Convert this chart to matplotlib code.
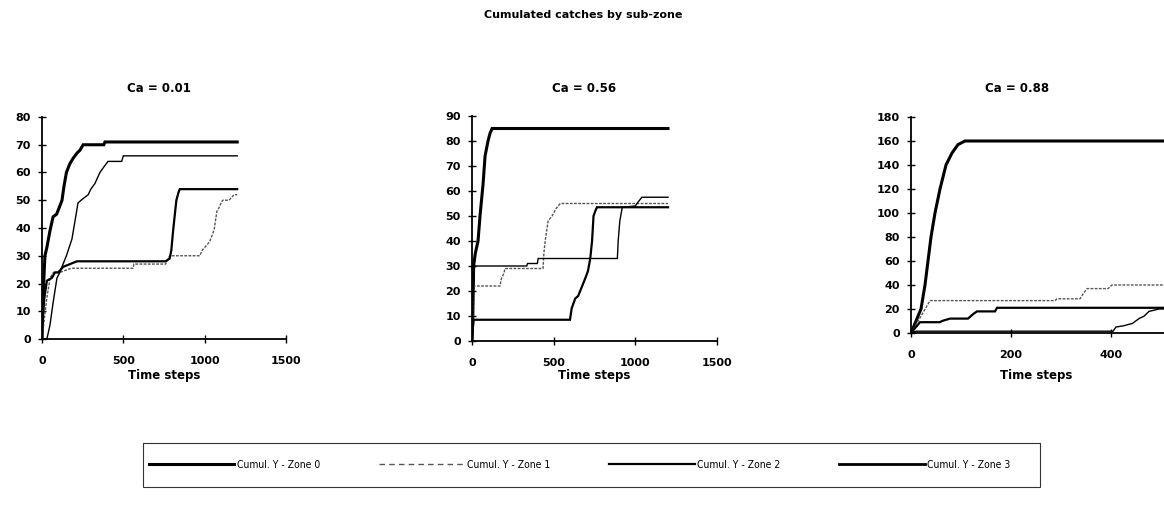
import matplotlib
matplotlib.use("Agg")
import matplotlib.pyplot as plt
from matplotlib.lines import Line2D
from matplotlib.patches import Rectangle
from matplotlib import font_manager

# ---- data: cumulated catches per sub-zone, three catchability values ----
panel_titles = ["Ca = 0.01", "Ca = 0.56", "Ca = 0.88"]
zone_labels = ["Cumul. Y - Zone 0", "Cumul. Y - Zone 1",
               "Cumul. Y - Zone 2", "Cumul. Y - Zone 3"]

# Ca = 0.01
t_a_z0 = [0, 5, 10, 18, 30, 49, 68, 90, 110, 123, 135, 150, 170, 190, 215, 233, 253, 380, 387, 1200]
y_a_z0 = [0, 12, 20, 30, 33, 39, 44, 45, 48, 50, 55, 60, 63, 65, 67, 68, 70, 70, 71, 71]
t_a_z1 = [0, 10, 30, 50, 70, 110, 180, 560, 565, 760, 785, 970, 985, 1000, 1030, 1050, 1060, 1075, 1085, 1110, 1150, 1180, 1200]
y_a_z1 = [0, 5, 15, 22, 24, 24, 25.5, 25.5, 27, 27, 30, 30, 32, 33, 35, 38, 40, 46, 47, 50, 50, 52, 52]
t_a_z2 = [0, 30, 49, 68, 92, 110, 123, 150, 184, 210, 221, 240, 284, 300, 325, 356, 380, 406, 490, 500, 1200]
y_a_z2 = [0, 0, 5, 13, 22, 24, 26, 30, 36, 45, 49, 50, 52, 54, 56, 60, 62, 64, 64, 66, 66]
t_a_z3 = [0, 5, 15, 30, 60, 80, 100, 130, 215, 760, 785, 795, 806, 815, 826, 840, 847, 1200]
y_a_z3 = [0, 8, 15, 21, 22, 24, 24, 26, 28, 28, 29, 32, 39, 44, 50, 53, 54, 54]

# Ca = 0.56
t_b_z0 = [0, 5, 10, 20, 37, 49, 68, 80, 98, 110, 123, 1200]
y_b_z0 = [0, 10, 30, 35, 40, 50, 63, 74, 80, 83, 85, 85]
t_b_z1 = [0, 5, 10, 172, 180, 195, 202, 435, 440, 448, 466, 490, 515, 540, 1200]
y_b_z1 = [0, 10, 22, 22, 25, 27, 29, 29, 35, 40, 48, 50, 53, 55, 55]
t_b_z2 = [0, 8, 15, 335, 340, 400, 405, 890, 895, 905, 920, 1000, 1010, 1040, 1200]
y_b_z2 = [0, 20, 30, 30, 31, 31, 33, 33, 40, 48, 53.5, 54, 55, 57.5, 57.5]
t_b_z3 = [0, 5, 10, 600, 610, 632, 650, 693, 710, 724, 735, 744, 755, 765, 1200]
y_b_z3 = [0, 5, 8.5, 8.5, 13, 17, 18, 25, 28, 33, 40, 50, 52, 53.5, 53.5]

# Ca = 0.88
t_c_z0 = [0, 10, 20, 28, 34, 40, 48, 58, 70, 82, 94, 108, 510]
y_c_z0 = [0, 10, 20, 40, 60, 80, 100, 120, 140, 150, 157, 160, 160]
t_c_z1 = [0, 20, 38, 288, 292, 338, 345, 352, 394, 402, 510]
y_c_z1 = [0, 14, 27, 27, 28.5, 28.5, 33, 37, 37, 40, 40]
t_c_z2 = [0, 10, 404, 410, 425, 443, 456, 466, 476, 486, 496, 510]
y_c_z2 = [0, 1.5, 1.5, 5, 6, 8, 12, 14, 18, 19, 20, 20]
t_c_z3 = [0, 10, 18, 58, 62, 78, 114, 125, 132, 168, 172, 510]
y_c_z3 = [0, 5, 9, 9, 10, 12, 12, 16, 18, 18, 21, 21]

panels = [
    [(t_a_z0, y_a_z0), (t_a_z1, y_a_z1), (t_a_z2, y_a_z2), (t_a_z3, y_a_z3)],
    [(t_b_z0, y_b_z0), (t_b_z1, y_b_z1), (t_b_z2, y_b_z2), (t_b_z3, y_b_z3)],
    [(t_c_z0, y_c_z0), (t_c_z1, y_c_z1), (t_c_z2, y_c_z2), (t_c_z3, y_c_z3)],
]
x_limits = [(0, 1500), (0, 1500), (0, 600)]
x_ticks = [[0, 500, 1000, 1500], [0, 500, 1000, 1500], [0, 200, 400]]
y_limits = [(0, 80), (0, 90), (0, 180)]
y_steps = [10, 10, 20]

# ---- styling ----
zone_styles = [
    dict(color="black", lw=2.2, ls="-"),
    dict(color="#555555", lw=1.0, ls=(0, (2, 1))),
    dict(color="black", lw=1.0, ls="-"),
    dict(color="black", lw=1.6, ls="-"),
]
legend_styles = [
    dict(color="black", lw=2.2, ls="-"),
    dict(color="#555555", lw=1.0, ls=(0, (4, 3))),
    dict(color="black", lw=1.6, ls="-"),
    dict(color="black", lw=2.0, ls="-"),
]

W, H = 1164, 505
fig = plt.figure(figsize=(W / 100, H / 100), dpi=100)
fig.patch.set_facecolor("white")

# axes boxes in pixels: (left, bottom_y, right, top_y)
boxes = [(42, 339, 286, 117), (472, 341, 717, 116), (911, 333, 1211, 117)]
title_pos = [(159, 89), (584, 89), (1017, 89)]
xlabel_pos = [164, 594, 1036]

for i, (ax_box, series) in enumerate(zip(boxes, panels)):
    l, b, r, t = ax_box
    ax = fig.add_axes([l / W, 1 - b / H, (r - l) / W, (b - t) / H])
    for (tt, yy), st in zip(series, zone_styles):
        ax.plot(tt, yy, color=st["color"], lw=st["lw"], ls=st["ls"],
                solid_joinstyle="miter")
    ax.set_xlim(*x_limits[i])
    ax.set_ylim(*y_limits[i])
    ax.set_xticks(x_ticks[i])
    lo, hi = y_limits[i]
    ax.set_yticks(list(range(lo, hi + 1, y_steps[i])))
    for s in ("top", "right"):
        ax.spines[s].set_visible(False)
    for s in ("left", "bottom"):
        ax.spines[s].set_linewidth(1.3)
        ax.spines[s].set_color("black")
    ax.tick_params(axis="both", direction="inout", length=6, width=1.0,
                   colors="black")
    ax.tick_params(axis="x", pad=9)
    ax.tick_params(axis="y", pad=5)
    for lab in ax.get_xticklabels() + ax.get_yticklabels():
        lab.set_fontfamily("DejaVu Sans")
        lab.set_fontweight("bold")
        lab.set_fontsize(8)
    ax.patch.set_alpha(0)

    tx, ty = title_pos[i]
    fig.text(tx / W, 1 - ty / H, panel_titles[i], ha="center", va="center",
             fontsize=8.5, fontweight="bold", family="DejaVu Sans")
    fig.text(xlabel_pos[i] / W, 1 - 376 / H, "Time steps", ha="center",
             va="center", fontsize=8.5, fontweight="bold", family="DejaVu Sans")

fig.text(583 / W, 1 - 15 / H, "Cumulated catches by sub-zone", ha="center",
         va="center", fontsize=8, fontweight="bold", family="DejaVu Sans")

# legend box and entries
fig.patches.append(Rectangle((143 / W, 1 - 487 / H), (1040 - 143) / W, 44 / H,
                             transform=fig.transFigure, fill=False,
                             edgecolor="#333333", lw=0.8))
handles = [Line2D([], [], color=st["color"], lw=st["lw"], ls=st["ls"])
           for st in legend_styles]
leg_font = font_manager.FontProperties(family=["Liberation Sans Narrow", "DejaVu Sans"],
                                       stretch="condensed", size=7.5)
leg = fig.legend(handles, zone_labels, loc="center left",
                 bbox_to_anchor=(149 / W, 1 - 465 / H), ncol=4, frameon=False,
                 handlelength=8.2, handletextpad=0.25, columnspacing=5.65,
                 borderaxespad=0, borderpad=0, prop=leg_font)

fig.savefig("out.png", dpi=100)
